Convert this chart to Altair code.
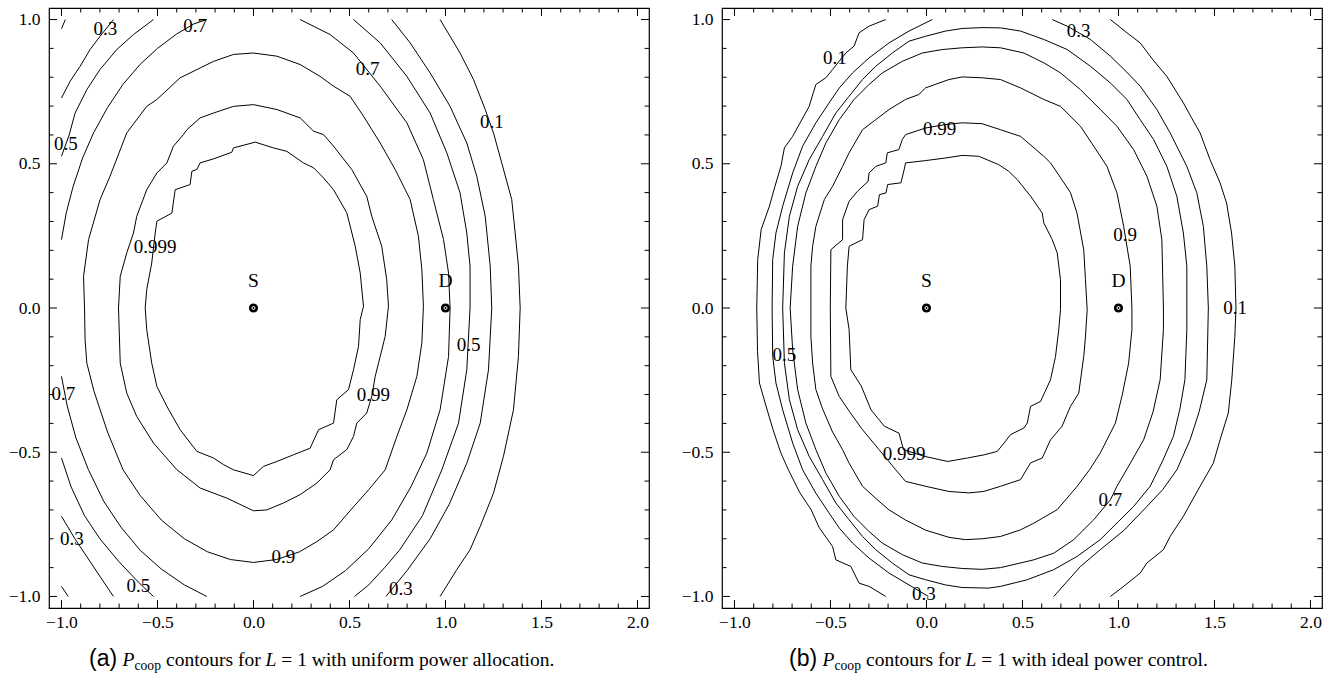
import altair as alt
import pandas as pd

SERIF = "Liberation Serif"
SANS = "Liberation Sans"

# ---------------- axes ----------------
X_DOMAIN = [-1.065, 2.06]
Y_DOMAIN = [-1.04, 1.04]
X_MAJOR = [-1.0, -0.5, 0.0, 0.5, 1.0, 1.5, 2.0]
Y_MAJOR = [-1.0, -0.5, 0.0, 0.5, 1.0]
X_MINOR = [-0.9, -0.8, -0.7, -0.6, -0.4, -0.3, -0.2, -0.1, 0.1, 0.2, 0.3, 0.4,
           0.6, 0.7, 0.8, 0.9, 1.1, 1.2, 1.3, 1.4, 1.6, 1.7, 1.8, 1.9]
Y_MINOR = [-0.9, -0.8, -0.7, -0.6, -0.4, -0.3, -0.2, -0.1, 0.1, 0.2, 0.3, 0.4,
           0.6, 0.7, 0.8, 0.9]

# ---------------- nodes ----------------
NODE_X = [0.0, 1.0]
NODE_Y = [0.0, 0.0]
NODE_NAME = ["S", "D"]

# ============ panel (a): uniform power allocation ============
A_0999 = [(0.573, 0.006), (0.556, 0.121), (0.530, 0.214), (0.486, 0.330), (0.417, 0.410),
          (0.365, 0.451), (0.313, 0.486), (0.260, 0.503), (0.174, 0.543), (0.104, 0.555),
          (0.009, 0.575), (-0.104, 0.555), (-0.113, 0.540), (-0.208, 0.517), (-0.278, 0.503),
          (-0.295, 0.480), (-0.321, 0.474), (-0.330, 0.428), (-0.408, 0.410), (-0.425, 0.329),
          (-0.503, 0.301), (-0.512, 0.260), (-0.530, 0.156), (-0.556, 0.064), (-0.564, 0.000),
          (-0.556, -0.075), (-0.530, -0.191), (-0.503, -0.272), (-0.451, -0.341), (-0.382, -0.422),
          (-0.295, -0.497), (-0.208, -0.520), (-0.156, -0.543), (-0.104, -0.561), (0.000, -0.581),
          (0.052, -0.549), (0.122, -0.532), (0.208, -0.509), (0.295, -0.486), (0.339, -0.422),
          (0.417, -0.399), (0.434, -0.318), (0.495, -0.283), (0.521, -0.214), (0.547, -0.133),
          (0.556, -0.040), (0.573, 0.006)]
A_099 = [(0.703, 0.006), (0.694, 0.098), (0.668, 0.214), (0.616, 0.318), (0.590, 0.387),
         (0.512, 0.480), (0.417, 0.561), (0.365, 0.601), (0.313, 0.613), (0.243, 0.659),
         (0.122, 0.688), (0.000, 0.705), (-0.104, 0.699), (-0.208, 0.676), (-0.278, 0.659),
         (-0.347, 0.618), (-0.365, 0.601), (-0.417, 0.561), (-0.451, 0.503), (-0.503, 0.468),
         (-0.556, 0.410), (-0.608, 0.318), (-0.625, 0.260), (-0.660, 0.191), (-0.694, 0.110),
         (-0.703, 0.000), (-0.694, -0.191), (-0.660, -0.295), (-0.608, -0.376), (-0.521, -0.468),
         (-0.400, -0.560), (-0.278, -0.624), (-0.139, -0.659), (0.000, -0.703), (0.069, -0.700),
         (0.156, -0.676), (0.243, -0.647), (0.330, -0.607), (0.399, -0.561), (0.417, -0.526),
         (0.486, -0.491), (0.521, -0.445), (0.538, -0.399), (0.590, -0.364), (0.616, -0.306),
         (0.634, -0.237), (0.660, -0.168), (0.686, -0.098), (0.703, 0.006)]
A_09 = [(0.885, 0.006), (0.877, 0.133), (0.859, 0.249), (0.816, 0.376), (0.738, 0.480),
        (0.660, 0.572), (0.573, 0.665), (0.503, 0.734), (0.417, 0.769), (0.347, 0.803),
        (0.243, 0.844), (0.122, 0.873), (0.000, 0.884), (-0.104, 0.879), (-0.208, 0.855),
        (-0.278, 0.832), (-0.382, 0.798), (-0.503, 0.723), (-0.556, 0.699), (-0.660, 0.607),
        (-0.747, 0.457), (-0.799, 0.376), (-0.859, 0.237), (-0.885, 0.110), (-0.880, 0.000),
        (-0.877, -0.110), (-0.868, -0.191), (-0.830, -0.290), (-0.760, -0.430), (-0.680, -0.560),
        (-0.590, -0.650), (-0.480, -0.735), (-0.360, -0.800), (-0.240, -0.845), (-0.120, -0.872),
        (0.000, -0.882), (0.120, -0.872), (0.240, -0.845), (0.330, -0.810), (0.417, -0.769),
        (0.520, -0.690), (0.600, -0.630), (0.686, -0.561), (0.747, -0.445), (0.799, -0.353),
        (0.851, -0.237), (0.877, -0.121), (0.885, 0.006)]
A_07_UL = [(-1.000, 0.237), (-0.975, 0.330), (-0.940, 0.420), (-0.890, 0.520), (-0.833, 0.607),
           (-0.760, 0.695), (-0.680, 0.775), (-0.590, 0.845), (-0.500, 0.900), (-0.400, 0.950),
           (-0.310, 0.985), (-0.243, 1.000)]
A_07_R = [(0.243, 1.000), (0.399, 0.948), (0.521, 0.884), (0.660, 0.769), (0.799, 0.642),
          (0.885, 0.514), (0.937, 0.376), (0.990, 0.237), (1.016, 0.121), (1.024, 0.000),
          (1.016, -0.168), (0.972, -0.353), (0.903, -0.503), (0.820, -0.620), (0.720, -0.735),
          (0.600, -0.835), (0.480, -0.910), (0.360, -0.965), (0.243, -1.000)]
A_07_LL = [(-1.000, -0.237), (-0.970, -0.340), (-0.925, -0.450), (-0.860, -0.560), (-0.780, -0.670),
           (-0.690, -0.760), (-0.590, -0.840), (-0.480, -0.905), (-0.360, -0.960), (-0.243, -1.000)]
A_05_UL = [(-1.000, 0.526), (-0.960, 0.600), (-0.929, 0.676), (-0.868, 0.757), (-0.799, 0.827),
           (-0.712, 0.896), (-0.625, 0.948), (-0.521, 1.000)]
A_05_R = [(0.521, 1.000), (0.660, 0.919), (0.799, 0.803), (0.920, 0.676), (1.007, 0.538),
          (1.076, 0.399), (1.111, 0.260), (1.128, 0.145), (1.128, 0.000), (1.111, -0.214),
          (1.068, -0.399), (0.981, -0.561), (0.880, -0.720), (0.760, -0.840), (0.683, -0.900),
          (0.600, -0.960), (0.526, -1.000)]
A_05_LL = [(-1.000, -0.520), (-0.950, -0.620), (-0.880, -0.720), (-0.800, -0.800), (-0.700, -0.880),
           (-0.600, -0.950), (-0.521, -1.000)]
A_03_UL = [(-1.000, 0.728), (-0.955, 0.786), (-0.903, 0.838), (-0.851, 0.896), (-0.799, 0.942),
           (-0.729, 1.000)]
A_03_R = [(0.720, 1.000), (0.816, 0.919), (0.920, 0.815), (1.024, 0.699), (1.111, 0.572),
          (1.163, 0.457), (1.207, 0.318), (1.233, 0.145), (1.241, 0.000), (1.224, -0.214),
          (1.181, -0.399), (1.111, -0.538), (1.020, -0.680), (0.920, -0.800), (0.800, -0.910),
          (0.690, -1.000)]
A_03_LL = [(-1.000, -0.722), (-0.930, -0.800), (-0.850, -0.880), (-0.780, -0.950), (-0.729, -1.000)]
A_01_UL = [(-1.000, 0.968), (-0.980, 1.000)]
A_01_R = [(0.972, 1.000), (1.076, 0.884), (1.146, 0.792), (1.207, 0.688), (1.250, 0.607),
          (1.293, 0.503), (1.345, 0.376), (1.363, 0.260), (1.380, 0.145), (1.389, 0.000),
          (1.380, -0.168), (1.354, -0.353), (1.302, -0.514), (1.250, -0.642), (1.181, -0.757),
          (1.128, -0.838), (1.059, -0.907), (0.972, -1.000)]
A_01_LL = [(-1.000, -0.965), (-0.965, -1.000)]

A_LABEL_TEXT = ["0.3", "0.7", "0.7", "0.1", "0.5", "0.999", "0.5", "0.7", "0.99",
                "0.3", "0.9", "0.5", "0.3"]
A_LABEL_X = [-0.772, -0.304, 0.594, 1.242, -0.977, -0.512, 1.120, -0.990, 0.625,
             -0.946, 0.156, -0.599, 0.768]
A_LABEL_Y = [0.968, 0.977, 0.830, 0.645, 0.570, 0.212, -0.127, -0.297, -0.300,
             -0.800, -0.862, -0.962, -0.975]

# ============ panel (b): ideal power control ============
B_0999 = [(0.698, -0.006), (0.698, 0.098), (0.681, 0.191), (0.655, 0.237), (0.611, 0.295),
          (0.603, 0.329), (0.543, 0.387), (0.473, 0.445), (0.428, 0.474), (0.376, 0.497),
          (0.272, 0.526), (0.186, 0.529), (0.099, 0.520), (-0.005, 0.511), (-0.109, 0.503),
          (-0.116, 0.480), (-0.133, 0.434), (-0.202, 0.428), (-0.211, 0.399), (-0.245, 0.393),
          (-0.254, 0.353), (-0.299, 0.341), (-0.325, 0.306), (-0.333, 0.237), (-0.403, 0.214),
          (-0.412, 0.145), (-0.420, 0.000), (-0.403, -0.075), (-0.394, -0.214), (-0.340, -0.270),
          (-0.289, -0.353), (-0.219, -0.410), (-0.143, -0.434), (-0.120, -0.491), (-0.012, -0.514),
          (0.110, -0.532), (0.213, -0.520), (0.300, -0.509), (0.369, -0.497), (0.404, -0.468),
          (0.438, -0.439), (0.507, -0.416), (0.525, -0.399), (0.542, -0.341), (0.594, -0.324),
          (0.646, -0.249), (0.672, -0.168), (0.689, -0.075), (0.698, -0.006)]
B_099 = [(0.837, -0.006), (0.828, 0.098), (0.819, 0.202), (0.784, 0.329), (0.750, 0.400),
         (0.690, 0.460), (0.646, 0.503), (0.611, 0.526), (0.490, 0.595), (0.386, 0.618),
         (0.289, 0.639), (0.186, 0.642), (0.099, 0.636), (-0.005, 0.624), (-0.109, 0.601),
         (-0.126, 0.584), (-0.144, 0.549), (-0.204, 0.538), (-0.212, 0.503), (-0.264, 0.491),
         (-0.299, 0.468), (-0.304, 0.439), (-0.359, 0.405), (-0.403, 0.370), (-0.437, 0.306),
         (-0.437, 0.237), (-0.498, 0.202), (-0.501, 0.000), (-0.498, -0.237), (-0.455, -0.306),
         (-0.400, -0.360), (-0.333, -0.422), (-0.247, -0.491), (-0.160, -0.561), (-0.109, -0.601),
         (-0.005, -0.618), (0.117, -0.636), (0.221, -0.641), (0.298, -0.636), (0.386, -0.618),
         (0.490, -0.595), (0.542, -0.537), (0.603, -0.520), (0.646, -0.457), (0.706, -0.410),
         (0.750, -0.341), (0.793, -0.295), (0.819, -0.168), (0.828, -0.100), (0.837, -0.006)]
B_09 = [(1.070, 0.000), (1.061, 0.145), (1.027, 0.283), (0.992, 0.399), (0.940, 0.491),
        (0.871, 0.561), (0.802, 0.630), (0.698, 0.699), (0.611, 0.723), (0.490, 0.763),
        (0.386, 0.792), (0.290, 0.798), (0.186, 0.801), (0.117, 0.792), (-0.005, 0.763),
        (-0.040, 0.740), (-0.109, 0.723), (-0.195, 0.688), (-0.264, 0.653), (-0.333, 0.618),
        (-0.403, 0.538), (-0.437, 0.491), (-0.489, 0.422), (-0.532, 0.376), (-0.576, 0.283),
        (-0.593, 0.214), (-0.602, 0.145), (-0.602, 0.000), (-0.602, -0.100), (-0.593, -0.191),
        (-0.576, -0.283), (-0.541, -0.350), (-0.489, -0.430), (-0.437, -0.491), (-0.403, -0.538),
        (-0.333, -0.618), (-0.264, -0.660), (-0.195, -0.700), (-0.109, -0.735), (-0.005, -0.770),
        (0.117, -0.795), (0.203, -0.803), (0.290, -0.800), (0.386, -0.792), (0.490, -0.769),
        (0.559, -0.746), (0.681, -0.699), (0.785, -0.618), (0.850, -0.560), (0.905, -0.503),
        (0.984, -0.399), (1.020, -0.300), (1.053, -0.191), (1.070, -0.075), (1.070, 0.000)]
B_07 = [(1.234, 0.000), (1.226, 0.237), (1.200, 0.353), (1.148, 0.457), (1.079, 0.549),
        (0.992, 0.630), (0.906, 0.688), (0.802, 0.757), (0.698, 0.815), (0.611, 0.850),
        (0.507, 0.884), (0.386, 0.902), (0.290, 0.905), (0.186, 0.902), (0.082, 0.896),
        (-0.022, 0.884), (-0.126, 0.855), (-0.230, 0.815), (-0.299, 0.775), (-0.377, 0.723),
        (-0.454, 0.653), (-0.524, 0.572), (-0.576, 0.491), (-0.628, 0.399), (-0.671, 0.283),
        (-0.697, 0.145), (-0.710, 0.000), (-0.697, -0.145), (-0.671, -0.283), (-0.628, -0.399),
        (-0.576, -0.491), (-0.524, -0.572), (-0.454, -0.653), (-0.377, -0.723), (-0.299, -0.775),
        (-0.230, -0.815), (-0.126, -0.855), (-0.022, -0.884), (0.082, -0.896), (0.186, -0.903),
        (0.290, -0.906), (0.386, -0.900), (0.559, -0.873), (0.663, -0.850), (0.767, -0.803),
        (0.871, -0.734), (0.958, -0.665), (0.992, -0.618), (1.060, -0.540), (1.131, -0.457),
        (1.180, -0.360), (1.217, -0.249), (1.234, -0.075), (1.234, 0.000)]
B_05 = [(1.356, 0.000), (1.356, 0.145), (1.338, 0.260), (1.304, 0.387), (1.252, 0.491),
        (1.183, 0.584), (1.113, 0.653), (1.044, 0.723), (0.958, 0.780), (0.854, 0.838),
        (0.733, 0.896), (0.611, 0.931), (0.490, 0.960), (0.386, 0.971), (0.290, 0.972),
        (0.186, 0.969), (0.099, 0.960), (-0.005, 0.942), (-0.091, 0.925), (-0.178, 0.884),
        (-0.264, 0.838), (-0.333, 0.792), (-0.403, 0.734), (-0.472, 0.676), (-0.541, 0.595),
        (-0.611, 0.514), (-0.671, 0.422), (-0.714, 0.318), (-0.740, 0.191), (-0.749, 0.000),
        (-0.740, -0.191), (-0.714, -0.318), (-0.671, -0.422), (-0.611, -0.514), (-0.541, -0.595),
        (-0.472, -0.676), (-0.403, -0.734), (-0.333, -0.792), (-0.264, -0.838), (-0.178, -0.884),
        (-0.091, -0.925), (-0.005, -0.942), (0.099, -0.960), (0.186, -0.969), (0.324, -0.971),
        (0.386, -0.965), (0.525, -0.942), (0.663, -0.907), (0.785, -0.861), (0.905, -0.803),
        (1.000, -0.740), (1.079, -0.688), (1.165, -0.618), (1.230, -0.530), (1.286, -0.445),
        (1.320, -0.350), (1.346, -0.249), (1.356, -0.075), (1.356, 0.000)]
B_03_L = [(0.030, 1.000), (-0.091, 0.960), (-0.195, 0.919), (-0.299, 0.867), (-0.385, 0.815),
          (-0.454, 0.763), (-0.507, 0.711), (-0.576, 0.642), (-0.645, 0.561), (-0.697, 0.468),
          (-0.749, 0.353), (-0.784, 0.260), (-0.801, 0.168), (-0.804, 0.000), (-0.801, -0.168),
          (-0.784, -0.260), (-0.749, -0.353), (-0.697, -0.468), (-0.645, -0.561), (-0.576, -0.642),
          (-0.507, -0.711), (-0.454, -0.763), (-0.385, -0.815), (-0.299, -0.867), (-0.195, -0.919),
          (-0.091, -0.960), (0.010, -1.000)]
B_03_R = [(0.655, 1.000), (0.733, 0.977), (0.854, 0.931), (0.958, 0.873), (1.040, 0.820),
          (1.113, 0.769), (1.200, 0.688), (1.269, 0.607), (1.356, 0.491), (1.408, 0.399),
          (1.442, 0.283), (1.460, 0.145), (1.468, 0.000), (1.460, -0.249), (1.420, -0.360),
          (1.373, -0.457), (1.304, -0.561), (1.230, -0.630), (1.148, -0.688), (1.030, -0.770),
          (0.905, -0.838), (0.802, -0.896), (0.663, -1.000)]
B_01_L = [(-0.212, 1.000), (-0.299, 0.977), (-0.351, 0.954), (-0.377, 0.908), (-0.420, 0.884),
          (-0.489, 0.827), (-0.524, 0.798), (-0.576, 0.775), (-0.611, 0.699), (-0.697, 0.595),
          (-0.740, 0.555), (-0.758, 0.491), (-0.790, 0.420), (-0.818, 0.353), (-0.861, 0.272),
          (-0.879, 0.168), (-0.884, 0.000), (-0.880, -0.150), (-0.870, -0.260), (-0.840, -0.330),
          (-0.800, -0.420), (-0.760, -0.500), (-0.720, -0.560), (-0.660, -0.640), (-0.600, -0.700),
          (-0.560, -0.760), (-0.489, -0.827), (-0.472, -0.873), (-0.394, -0.896), (-0.351, -0.954),
          (-0.299, -0.965), (-0.212, -1.000)]
B_01_R = [(0.958, 1.000), (1.044, 0.954), (1.113, 0.919), (1.180, 0.860), (1.252, 0.803),
          (1.338, 0.711), (1.380, 0.660), (1.425, 0.607), (1.477, 0.514), (1.529, 0.434),
          (1.563, 0.364), (1.589, 0.260), (1.606, 0.145), (1.612, 0.000), (1.606, -0.100),
          (1.590, -0.250), (1.572, -0.364), (1.529, -0.457), (1.494, -0.538), (1.425, -0.618),
          (1.338, -0.722), (1.269, -0.792), (1.234, -0.838), (1.148, -0.884), (1.113, -0.919),
          (1.027, -0.965), (0.958, -1.000)]

B_LABEL_TEXT = ["0.1", "0.3", "0.99", "0.9", "0.1", "0.5", "0.999", "0.7", "0.3"]
B_LABEL_X = [-0.477, 0.793, 0.068, 1.035, 1.607, -0.740, -0.117, 0.958, -0.014]
B_LABEL_Y = [0.867, 0.960, 0.621, 0.254, 0.000, -0.162, -0.505, -0.665, -0.992]

A_SEGMENTS = {"0.999": A_0999, "0.99": A_099, "0.9": A_09,
              "0.7a": A_07_UL, "0.7b": A_07_R, "0.7c": A_07_LL,
              "0.5a": A_05_UL, "0.5b": A_05_R, "0.5c": A_05_LL,
              "0.3a": A_03_UL, "0.3b": A_03_R, "0.3c": A_03_LL,
              "0.1a": A_01_UL, "0.1b": A_01_R, "0.1c": A_01_LL}
B_SEGMENTS = {"0.999": B_0999, "0.99": B_099, "0.9": B_09, "0.7": B_07, "0.5": B_05,
              "0.3a": B_03_L, "0.3b": B_03_R, "0.1a": B_01_L, "0.1b": B_01_R}

W, H = 600, 600


def seg_frame(segments):
    rows = []
    for name, pts in segments.items():
        for i, (x, y) in enumerate(pts):
            rows.append({"seg": name, "i": i, "x": x, "y": y})
    return pd.DataFrame(rows)


def panel(segments, lab_text, lab_x, lab_y, tag, rest):
    xs = alt.Scale(domain=X_DOMAIN, nice=False, zero=False)
    ys = alt.Scale(domain=Y_DOMAIN, nice=False, zero=False)
    xaxis = alt.Axis(values=X_MAJOR, format=".1f", ticks=False, domain=False, grid=False,
                     labelFont=SERIF, labelFontSize=17.5, labelColor="black",
                     labelPadding=5, title=None, labelFlush=False)
    yaxis = alt.Axis(values=Y_MAJOR, format=".1f", ticks=False, domain=False, grid=False,
                     labelFont=SERIF, labelFontSize=17.5, labelColor="black",
                     labelPadding=9, title=None, labelFlush=False)

    def X(f):
        return alt.X(f, scale=xs, axis=xaxis, title=None)

    def Y(f):
        return alt.Y(f, scale=ys, axis=yaxis, title=None)

    lines = alt.Chart(seg_frame(segments)).mark_line(
        color="black", strokeWidth=1, clip=True
    ).encode(x=X("x:Q"), y=Y("y:Q"), detail="seg:N", order="i:Q")

    labels = alt.Chart(pd.DataFrame({"t": lab_text, "x": lab_x, "y": lab_y})).mark_text(
        font=SERIF, fontSize=19, color="black", align="center", baseline="middle"
    ).encode(x=X("x:Q"), y=Y("y:Q"), text="t:N")

    nodes_df = pd.DataFrame({"x": NODE_X, "y": NODE_Y, "n": NODE_NAME})
    dots = alt.Chart(nodes_df).mark_point(
        shape="circle", filled=True, size=85, color="black", opacity=1
    ).encode(x=X("x:Q"), y=Y("y:Q"))
    rings = alt.Chart(nodes_df).mark_point(
        shape="circle", filled=False, size=9, color="white", strokeWidth=1, opacity=1
    ).encode(x=X("x:Q"), y=Y("y:Q"))
    node_text = alt.Chart(nodes_df).mark_text(
        font=SERIF, fontSize=19.5, color="black", align="center", baseline="alphabetic", dy=-21
    ).encode(x=X("x:Q"), y=Y("y:Q"), text="n:N")

    xmaj = pd.DataFrame({"x": X_MAJOR})
    xmin = pd.DataFrame({"x": X_MINOR})
    ymaj = pd.DataFrame({"y": Y_MAJOR})
    ymin = pd.DataFrame({"y": Y_MINOR})
    ticks = []
    for df, size in ((xmaj, 16), (xmin, 9)):
        for ypix in (H, 0):
            ticks.append(alt.Chart(df).mark_tick(
                orient="vertical", size=size, thickness=1, color="black", opacity=1, clip=True
            ).encode(x=X("x:Q"), y=alt.value(ypix)))
    for df, size in ((ymaj, 16), (ymin, 9)):
        for xpix in (0, W):
            ticks.append(alt.Chart(df).mark_tick(
                orient="horizontal", size=size, thickness=1, color="black", opacity=1, clip=True
            ).encode(y=Y("y:Q"), x=alt.value(xpix)))

    # caption pieces
    dummy = pd.DataFrame({"k": [0]})
    x0 = tag[1]
    cap = [
        alt.Chart(dummy).mark_text(text=tag[0], font=SANS, fontSize=23, color="black",
                                   align="left", baseline="alphabetic"
                                   ).encode(x=alt.value(x0), y=alt.value(658)),
        alt.Chart(dummy).mark_text(text="P", font=SERIF, fontSize=19.5, fontStyle="italic",
                                   color="black", align="left", baseline="alphabetic"
                                   ).encode(x=alt.value(x0 + 33.5), y=alt.value(658)),
        alt.Chart(dummy).mark_text(text="coop", font=SERIF, fontSize=13.6, color="black",
                                   align="left", baseline="alphabetic"
                                   ).encode(x=alt.value(x0 + 45.5), y=alt.value(662)),
        alt.Chart(dummy).mark_text(text="contours for", font=SERIF, fontSize=19.5,
                                   color="black", align="left", baseline="alphabetic"
                                   ).encode(x=alt.value(x0 + 77), y=alt.value(658)),
        alt.Chart(dummy).mark_text(text="L", font=SERIF, fontSize=19.5, fontStyle="italic",
                                   color="black", align="left", baseline="alphabetic"
                                   ).encode(x=alt.value(x0 + 176.6), y=alt.value(658)),
        alt.Chart(dummy).mark_text(text=rest, font=SERIF, fontSize=19.5, color="black",
                                   align="left", baseline="alphabetic"
                                   ).encode(x=alt.value(x0 + 192.3), y=alt.value(658)),
    ]

    return alt.layer(lines, *ticks, labels, dots, rings, node_text, *cap).properties(
        width=W, height=H
    )


pa = panel(A_SEGMENTS, A_LABEL_TEXT, A_LABEL_X, A_LABEL_Y, ("(a)", 40),
           "= 1 with uniform power allocation.")
pb = panel(B_SEGMENTS, B_LABEL_TEXT, B_LABEL_X, B_LABEL_Y, ("(b)", 67),
           "= 1 with ideal power control.")

chart = alt.hconcat(pa, pb, spacing=30).properties(
    padding={"left": 7, "top": 7, "right": 5, "bottom": 5},
    background="white",
).configure_view(stroke="black", strokeWidth=1.2)

chart.save("out.html", embed_options={"renderer": "svg", "actions": False})
